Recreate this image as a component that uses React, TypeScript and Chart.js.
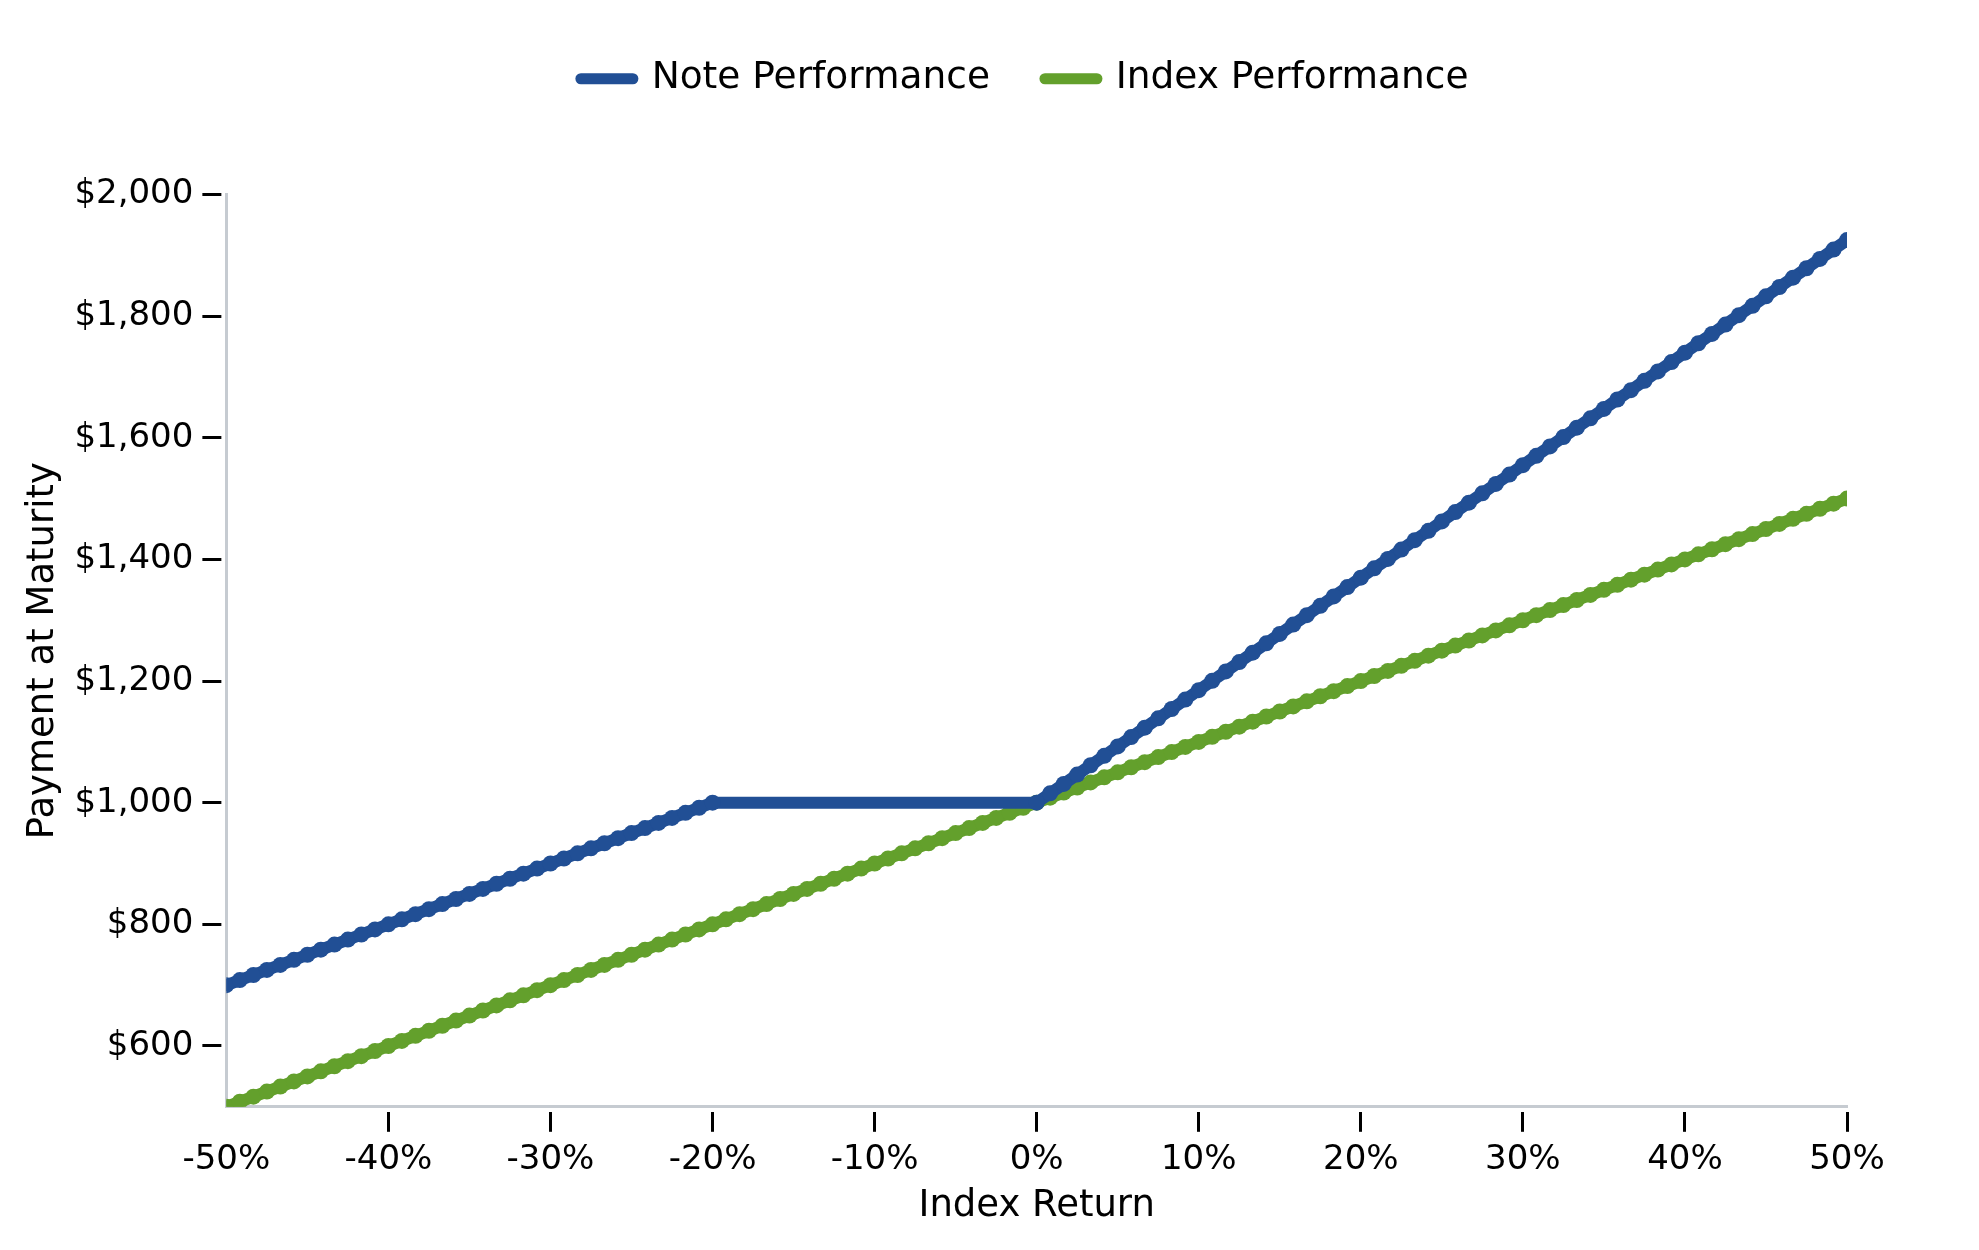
import { useEffect, useRef } from 'react';
import { Chart, registerables } from 'chart.js';

// Index return (%) for each point
const indexReturn = [
  -50, -49.17, -48.33, -47.5, -46.67, -45.83,
  -45, -44.17, -43.33, -42.5, -41.67, -40.83,
  -40, -39.17, -38.33, -37.5, -36.67, -35.83,
  -35, -34.17, -33.33, -32.5, -31.67, -30.83,
  -30, -29.17, -28.33, -27.5, -26.67, -25.83,
  -25, -24.17, -23.33, -22.5, -21.67, -20.83,
  -20, -19.17, -18.33, -17.5, -16.67, -15.83,
  -15, -14.17, -13.33, -12.5, -11.67, -10.83,
  -10, -9.17, -8.33, -7.5, -6.67, -5.83,
  -5, -4.17, -3.33, -2.5, -1.67, -0.83,
  0, 0.83, 1.67, 2.5, 3.33, 4.17,
  5, 5.83, 6.67, 7.5, 8.33, 9.17,
  10, 10.83, 11.67, 12.5, 13.33, 14.17,
  15, 15.83, 16.67, 17.5, 18.33, 19.17,
  20, 20.83, 21.67, 22.5, 23.33, 24.17,
  25, 25.83, 26.67, 27.5, 28.33, 29.17,
  30, 30.83, 31.67, 32.5, 33.33, 34.17,
  35, 35.83, 36.67, 37.5, 38.33, 39.17,
  40, 40.83, 41.67, 42.5, 43.33, 44.17,
  45, 45.83, 46.67, 47.5, 48.33, 49.17,
  50,
];

// Note payment ($); the flat buffer zone has only its two end points
const notePerformance = [
  700, 708.3, 716.7, 725, 733.3, 741.7,
  750, 758.3, 766.7, 775, 783.3, 791.7,
  800, 808.3, 816.7, 825, 833.3, 841.7,
  850, 858.3, 866.7, 875, 883.3, 891.7,
  900, 908.3, 916.7, 925, 933.3, 941.7,
  950, 958.3, 966.7, 975, 983.3, 991.7,
  1000, null, null, null, null, null,
  null, null, null, null, null, null,
  null, null, null, null, null, null,
  null, null, null, null, null, null,
  1000, 1015.4, 1030.8, 1046.2, 1061.6, 1077,
  1092.5, 1107.9, 1123.3, 1138.7, 1154.1, 1169.5,
  1185, 1200.4, 1215.8, 1231.2, 1246.6, 1262,
  1277.5, 1292.9, 1308.3, 1323.7, 1339.1, 1354.5,
  1370, 1385.4, 1400.8, 1416.2, 1431.6, 1447,
  1462.5, 1477.9, 1493.3, 1508.7, 1524.1, 1539.5,
  1555, 1570.4, 1585.8, 1601.2, 1616.6, 1632,
  1647.5, 1662.9, 1678.3, 1693.7, 1709.1, 1724.5,
  1740, 1755.4, 1770.8, 1786.2, 1801.6, 1817,
  1832.5, 1847.9, 1863.3, 1878.7, 1894.1, 1909.5,
  1925,
];

// Index payment ($)
const indexPerformance = [
  500, 508.3, 516.7, 525, 533.3, 541.7,
  550, 558.3, 566.7, 575, 583.3, 591.7,
  600, 608.3, 616.7, 625, 633.3, 641.7,
  650, 658.3, 666.7, 675, 683.3, 691.7,
  700, 708.3, 716.7, 725, 733.3, 741.7,
  750, 758.3, 766.7, 775, 783.3, 791.7,
  800, 808.3, 816.7, 825, 833.3, 841.7,
  850, 858.3, 866.7, 875, 883.3, 891.7,
  900, 908.3, 916.7, 925, 933.3, 941.7,
  950, 958.3, 966.7, 975, 983.3, 991.7,
  1000, 1008.3, 1016.7, 1025, 1033.3, 1041.7,
  1050, 1058.3, 1066.7, 1075, 1083.3, 1091.7,
  1100, 1108.3, 1116.7, 1125, 1133.3, 1141.7,
  1150, 1158.3, 1166.7, 1175, 1183.3, 1191.7,
  1200, 1208.3, 1216.7, 1225, 1233.3, 1241.7,
  1250, 1258.3, 1266.7, 1275, 1283.3, 1291.7,
  1300, 1308.3, 1316.7, 1325, 1333.3, 1341.7,
  1350, 1358.3, 1366.7, 1375, 1383.3, 1391.7,
  1400, 1408.3, 1416.7, 1425, 1433.3, 1441.7,
  1450, 1458.3, 1466.7, 1475, 1483.3, 1491.7,
  1500,
];

const xTicks = [-50, -40, -30, -20, -10, 0, 10, 20, 30, 40, 50];
const yTicks = [600, 800, 1000, 1200, 1400, 1600, 1800, 2000];

const BLUE = '#214f95';
const GREEN = '#63a02c';
const AXIS_GRAY = '#c6cbd1';
const FONT = 'DejaVu Sans';
const LINE_WIDTH = 12;

// push the plot area down below the legend and nudge the legend left
const legendSpacer = {
  id: 'legendSpacer',
  beforeInit(chart: any) {
    const legend = chart.legend;
    if (!legend) return;
    const origFit = legend.fit;
    legend.fit = function () {
      origFit.call(this);
      this.height += 87;
    };
  },
  afterLayout(chart: any) {
    const legend = chart.legend;
    if (!legend) return;
    legend.left -= 12;
    legend.right -= 12;
  },
};

function PayoffChart() {
  const chartRef = useRef<HTMLCanvasElement>(null);
  const chartInstanceRef = useRef<Chart | null>(null);

  useEffect(() => {
    if (!chartRef.current) return;
    Chart.register(...registerables);
    document.body.style.margin = '0';

    if (chartInstanceRef.current) {
      chartInstanceRef.current.destroy();
    }

    const ctx = chartRef.current.getContext('2d');
    if (!ctx) return;

    const noteData = indexReturn.map((x, i) => ({ x, y: notePerformance[i] }));
    const indexData = indexReturn.map((x, i) => ({ x, y: indexPerformance[i] }));
    const colors = [BLUE, GREEN];

    chartInstanceRef.current = new Chart(ctx, {
      type: 'line',
      data: {
        datasets: [
          {
            label: 'Note Performance',
            data: noteData as any,
            borderColor: BLUE,
            backgroundColor: BLUE,
            borderWidth: LINE_WIDTH,
            borderCapStyle: 'round',
            borderJoinStyle: 'round',
            pointRadius: 8,
            pointHoverRadius: 8,
            pointBorderWidth: 0,
            pointBackgroundColor: BLUE,
            spanGaps: true,
            tension: 0,
          },
          {
            label: 'Index Performance',
            data: indexData as any,
            borderColor: GREEN,
            backgroundColor: GREEN,
            borderWidth: LINE_WIDTH,
            borderCapStyle: 'round',
            borderJoinStyle: 'round',
            pointRadius: 8,
            pointHoverRadius: 8,
            pointBorderWidth: 0,
            pointBackgroundColor: GREEN,
            tension: 0,
          },
        ],
      },
      options: {
        animation: false,
        responsive: true,
        maintainAspectRatio: false,
        layout: {
          padding: { top: 5, left: 21, right: 132, bottom: 21 },
        },
        plugins: {
          legend: {
            position: 'top',
            fullSize: false,
            labels: {
              usePointStyle: true,
              pointStyle: 'line',
              pointStyleWidth: 52,
              padding: 55,
              color: '#000',
              font: { family: FONT, size: 37.5 },
              generateLabels: (chart: any) =>
                Chart.defaults.plugins.legend.labels.generateLabels(chart).map((item: any) => ({
                  ...item,
                  pointStyle: 'line',
                  lineWidth: 11,
                  lineCap: 'round',
                  strokeStyle: colors[item.datasetIndex],
                  fillStyle: colors[item.datasetIndex],
                })),
            },
          },
          tooltip: { enabled: false },
        },
        scales: {
          x: {
            type: 'linear',
            min: -50,
            max: 50,
            afterBuildTicks: (scale: any) => {
              scale.ticks = xTicks.map((v) => ({ value: v }));
            },
            border: { display: true, color: AXIS_GRAY, width: 3 },
            grid: {
              display: true,
              drawOnChartArea: false,
              drawTicks: true,
              tickLength: 25,
              tickWidth: 3,
              tickColor: (c: any) => (c.tick && c.tick.value === -50 ? 'rgba(0,0,0,0)' : '#000'),
              tickBorderDash: [21, 100],
              tickBorderDashOffset: 117,
            },
            ticks: {
              color: '#000',
              padding: 8,
              maxRotation: 0,
              font: { family: FONT, size: 34 },
              callback: (value: any) => `${value}%`,
            },
            title: {
              display: true,
              text: 'Index Return',
              color: '#000',
              padding: { top: -4, bottom: 0 },
              font: { family: FONT, size: 37 },
            },
          },
          y: {
            type: 'linear',
            min: 500,
            max: 2000,
            afterBuildTicks: (scale: any) => {
              scale.ticks = yTicks.map((v) => ({ value: v }));
            },
            border: { display: true, color: AXIS_GRAY, width: 3 },
            grid: {
              display: true,
              drawOnChartArea: false,
              drawTicks: true,
              tickLength: 24,
              tickWidth: 3,
              tickColor: '#000',
              tickBorderDash: [19, 100],
            },
            ticks: {
              color: '#000',
              padding: 9,
              font: { family: FONT, size: 34 },
              callback: (value: any) => '$' + Number(value).toLocaleString('en-US'),
            },
            title: {
              display: true,
              text: 'Payment at Maturity',
              color: '#000',
              padding: { top: 0, bottom: 0 },
              font: { family: FONT, size: 37 },
            },
          },
        },
      },
      plugins: [legendSpacer],
    });

    return () => {
      if (chartInstanceRef.current) {
        chartInstanceRef.current.destroy();
        chartInstanceRef.current = null;
      }
    };
  }, []);

  return (
    <div style={{ position: 'relative', width: 1979, height: 1250, background: '#fff' }}>
      <canvas ref={chartRef} />
    </div>
  );
}

export default function App() {
  return <PayoffChart />;
}
